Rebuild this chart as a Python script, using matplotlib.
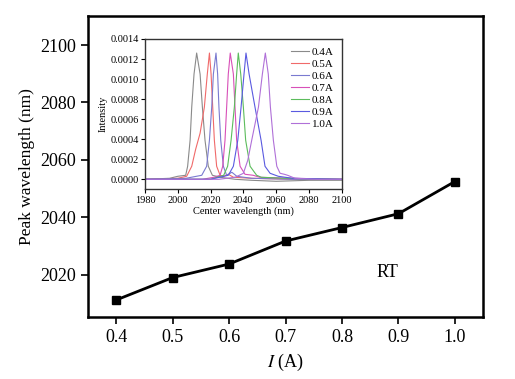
import matplotlib
matplotlib.use("Agg")
import matplotlib.pyplot as plt

plt.rcParams['font.family'] = ['Liberation Serif', 'DejaVu Serif']
plt.rcParams['mathtext.fontset'] = 'stix'

# main data: peak wavelength vs pump current
current = [0.4, 0.5, 0.6, 0.7, 0.8, 0.9, 1.0]
peak_wl = [2011.3, 2019.1, 2023.8, 2031.8, 2036.5, 2041.3, 2052.5]

# inset spectra (wavelength nm, intensity)
labels = ["0.4A", "0.5A", "0.6A", "0.7A", "0.8A", "0.9A", "1.0A"]
colors = ["#8a8a8a", "#f06a6a", "#7a7ad0", "#d850b8", "#5cbc5c", "#5a5ae0", "#b070d8"]

wl_04 = [1980, 1995, 2000, 2004.8, 2006, 2007.5, 2008.5, 2009.9, 2011.5, 2013.6, 2015, 2016.6, 2018.6, 2021.1, 2026, 2035, 2045, 2060, 2080, 2100]
in_04 = [0.0, 0.00001, 0.00003, 0.00004, 0.00013, 0.00039, 0.00072, 0.00105, 0.00126, 0.00105, 0.00072, 0.00039, 0.00013, 0.00004, 0.00002, 0.0, -0.00001, -0.00002, -0.00001, -0.00001]

wl_05 = [1980, 2000, 2005.4, 2008.5, 2010.9, 2013.6, 2016.2, 2018, 2019.3, 2020.3, 2021.3, 2022.3, 2023.7, 2025.8, 2028, 2030.8, 2034, 2045, 2070, 2100]
in_05 = [0.0, 0.00001, 0.00003, 0.00013, 0.0003, 0.00046, 0.00072, 0.00105, 0.00126, 0.00105, 0.00072, 0.00039, 0.00013, 0.00004, 0.00003, 0.00005, 0.00002, 0.00001, 0.0, 0.0]

wl_06 = [1980, 2005, 2014.6, 2017.6, 2019.3, 2020.7, 2021.7, 2023.3, 2024.3, 2025.1, 2026.2, 2027.8, 2029.8, 2033, 2036, 2045, 2070, 2100]
in_06 = [0.0, 0.00001, 0.00004, 0.00013, 0.00039, 0.00072, 0.00105, 0.00126, 0.00105, 0.00072, 0.00039, 0.00013, 0.00004, 0.00007, 0.00003, 0.00001, 0.0, 0.0]

wl_07 = [1980, 2015, 2022, 2025.8, 2027.4, 2028.8, 2029.8, 2030.8, 2032, 2033.9, 2034.9, 2035.9, 2038, 2041, 2046, 2050, 2070, 2100]
in_07 = [0.0, 0.0, 0.00002, 0.00004, 0.00013, 0.00039, 0.00072, 0.00105, 0.00126, 0.00105, 0.00072, 0.00039, 0.00013, 0.00005, 0.00004, 0.00002, 0.00001, 0.0]

wl_08 = [1980, 2020, 2028, 2030.4, 2032.5, 2034.5, 2035.9, 2036.9, 2038.4, 2040, 2041.4, 2044.1, 2048.1, 2051, 2065, 2100]
in_08 = [0.0, 0.0, 0.00004, 0.00013, 0.00039, 0.00072, 0.00105, 0.00126, 0.00105, 0.00072, 0.00039, 0.00013, 0.00004, 0.00002, 0.00001, 0.0]

wl_09 = [1980, 2020, 2030.8, 2033.9, 2036.6, 2038.6, 2040.4, 2041.6, 2043.5, 2047.1, 2050.8, 2053.2, 2056.3, 2061.3, 2070, 2100]
in_09 = [0.0, 0.0, 0.00004, 0.00013, 0.00039, 0.00072, 0.00105, 0.00126, 0.00105, 0.00072, 0.00039, 0.00013, 0.00006, 0.00003, 0.00001, 0.0]

wl_10 = [1980, 2025, 2035, 2040, 2042.7, 2045.1, 2049.2, 2051.6, 2053.4, 2055.2, 2056.5, 2058.3, 2060.4, 2062.4, 2065, 2067, 2071.5, 2085, 2100]
in_10 = [0.0, 0.0, 0.00002, 0.00006, 0.00019, 0.00039, 0.00072, 0.00105, 0.00126, 0.00105, 0.00072, 0.00039, 0.00013, 0.00006, 0.00005, 0.00004, 0.00001, 0.0, 0.0]

spec_wl = [wl_04, wl_05, wl_06, wl_07, wl_08, wl_09, wl_10]
spec_in = [in_04, in_05, in_06, in_07, in_08, in_09, in_10]

fig = plt.figure(figsize=(5.15, 3.79), dpi=100)
ax = fig.add_axes([0.171, 0.1623, 0.767, 0.7963])

ax.plot(current, peak_wl, color='black', lw=2, marker='s', ms=6, zorder=3)
ax.set_xlim(0.35, 1.05)
ax.set_ylim(2005.2, 2110.2)
ax.set_xticks([0.4, 0.5, 0.6, 0.7, 0.8, 0.9, 1.0])
ax.set_yticks([2020, 2040, 2060, 2080, 2100])
ax.tick_params(direction='out', length=5, width=1.2, labelsize=13)
for s in ax.spines.values():
    s.set_linewidth(1.8)
ax.set_xlabel(r'$I$ (A)', fontsize=13)
ax.set_ylabel('Peak wavelength (nm)', fontsize=12.5)
ax.text(0.88, 2021, 'RT', fontsize=13, ha='center', va='center')

# inset with spectra
ins = fig.add_axes([0.2816, 0.5005, 0.3819, 0.3966])
for w, v, c, lab in zip(spec_wl, spec_in, colors, labels):
    ins.plot(w, v, color=c, lw=0.8, label=lab)
ins.set_xlim(1980, 2100)
ins.set_ylim(-0.0001, 0.0014)
ins.set_xticks(range(1980, 2101, 20))
ins.set_yticks([0.0, 0.0002, 0.0004, 0.0006, 0.0008, 0.0010, 0.0012, 0.0014])
ins.set_yticklabels(['%.4f' % t for t in ins.get_yticks()])
ins.tick_params(direction='out', length=3, width=0.8, labelsize=7.5, pad=1.5)
for s in ins.spines.values():
    s.set_linewidth(1.0)
    s.set_color('#333333')
ins.set_xlabel('Center wavelength (nm)', fontsize=7.5, labelpad=1)
ins.set_ylabel('Intensity', fontsize=7.5, labelpad=2)
leg = ins.legend(loc='upper right', frameon=False, fontsize=8, handlelength=1.6,
                 handletextpad=0.3, labelspacing=0.2, borderaxespad=0.3)

fig.savefig('out.png', dpi=100)
